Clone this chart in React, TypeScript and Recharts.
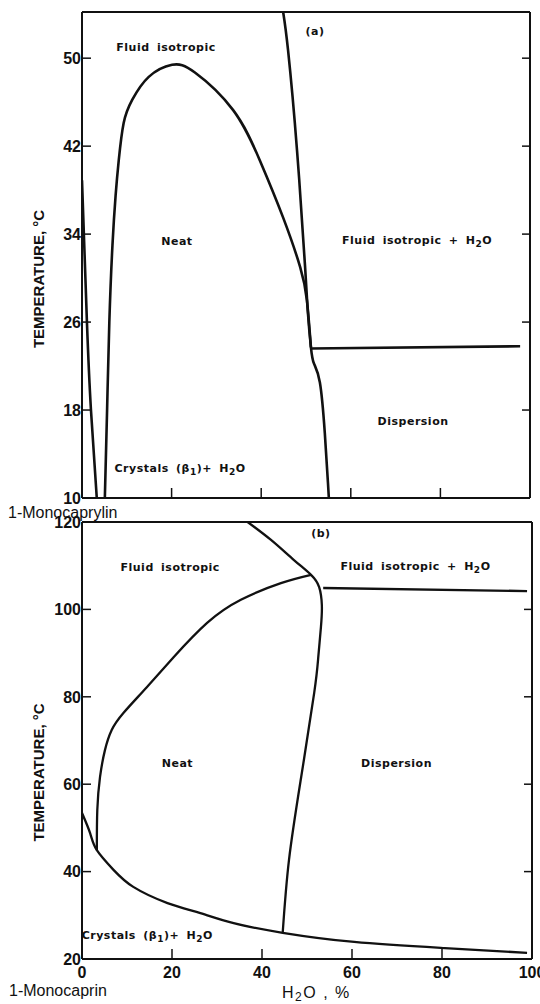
import { Label, Line, LineChart, ReferenceDot, XAxis, YAxis } from 'recharts'

type Pt = [number, number]
type Region = { x: number; t: number; text: string }

const pctTicks = [0, 20, 40, 60, 80, 100]
const pctInner = [20, 40, 60, 80]
const tempTicksA = [10, 18, 26, 34, 42, 50]
const tempInnerA = [18, 26, 34, 42, 50]
const tempTicksB = [20, 40, 60, 80, 100, 120]
const tempInnerB = [40, 60, 80, 100]

// (a) 1-monocaprylin, points are [H2O %, temperature °C]
const aCrystalLine: Pt[] = [[0, 38.9], [1.1, 26], [2, 18], [3.3, 10]]
const aNeatDome: Pt[] = [
  [5.1, 10], [5.6, 18], [6.1, 26], [6.8, 33], [7.5, 37.5], [8.2, 40.7],
  [9.3, 44.1], [11.2, 46.2], [14.9, 48.3], [20.1, 49.4], [25.2, 48.7],
  [33.7, 45.3], [39.7, 40.7], [44.9, 35.5], [48.7, 31], [50.2, 28], [51.1, 23.7],
]
const aWaterLine: Pt[] = [
  [44.9, 54.2], [46, 50.7], [48, 41.6], [49.8, 31], [50.4, 27], [51.1, 23.7],
  [51.8, 22.2], [53.1, 20.5], [54.2, 15.9], [54.9, 11.4], [55.1, 10],
]
const aDispersionTop: Pt[] = [[51.1, 23.6], [97.8, 23.8]]

// (b) 1-monocaprin
const bWaterLine: Pt[] = [
  [36.8, 120], [42, 115.9], [47.1, 111.3], [50.9, 107.9], [52.7, 105.1], [53.3, 101],
  [53.1, 96], [52.5, 89], [51.6, 80.9], [48.7, 61.6], [46, 42.7], [44.6, 26],
]
const bDispersionTop: Pt[] = [[53.6, 104.9], [98.9, 104.2]]
const bNeatDome: Pt[] = [
  [3.3, 44.9], [3.4, 54.1], [4, 61.6], [5.1, 67.8], [6.6, 72.4], [9.2, 76.3],
  [14.4, 82.2], [20.4, 89.1], [27.8, 96.9], [35.3, 102.2], [44.2, 106], [50.9, 107.9],
]
const bCrystalLine: Pt[] = [
  [0, 53.4], [1.8, 48.8], [3.3, 44.9], [7, 40.4], [11.4, 36.5], [19, 32.8],
  [26.3, 30.5], [33.7, 28.2], [44.6, 26], [60.5, 23.9], [80.6, 22.5], [98.9, 21.4],
]

const aRegions: Region[] = [
  { x: 18.75, t: 51, text: 'Fluid isotropic' },
  { x: 52, t: 52.5, text: '(a)' },
  { x: 21.2, t: 33.4, text: 'Neat' },
  { x: 74.8, t: 33.5, text: 'Fluid isotropic + H_2O' },
  { x: 73.9, t: 17, text: 'Dispersion' },
  { x: 21.9, t: 12.7, text: 'Crystals (β_1)+ H_2O' },
]
const bRegions: Region[] = [
  { x: 53.1, t: 117.5, text: '(b)' },
  { x: 19.6, t: 109.7, text: 'Fluid isotropic' },
  { x: 74.1, t: 109.9, text: 'Fluid isotropic + H_2O' },
  { x: 21.2, t: 64.9, text: 'Neat' },
  { x: 69.9, t: 64.9, text: 'Dispersion' },
  { x: 14.5, t: 25.5, text: 'Crystals (β_1)+ H_2O' },
]

const ink = '#111'
const sans = '"Liberation Sans", Arial, sans-serif'
const labelFont = '"DejaVu Sans", sans-serif'

const rows = (pts: Pt[]) => pts.map(([x, t]) => ({ x, t }))

function RegionText({ cx, cy, text }: { cx: number; cy: number; text: string }) {
  const parts = text.split(/(_\d)/).filter(Boolean)
  let shifted = false
  return (
    <text
      x={cx}
      y={cy}
      dy='0.36em'
      textAnchor='middle'
      fill={ink}
      fontFamily={labelFont}
      fontWeight={700}
      fontSize={11}
      letterSpacing={0.5}
      wordSpacing={3}
    >
      {parts.map((p, i) => {
        if (p.startsWith('_')) {
          shifted = true
          return (
            <tspan key={i} dy={3} fontSize={9}>
              {p.slice(1)}
            </tspan>
          )
        }
        const dy = shifted ? -3 : undefined
        shifted = false
        return (
          <tspan key={i} dy={dy}>
            {p}
          </tspan>
        )
      })}
    </text>
  )
}

function Panel({
  height,
  yDomain,
  yTicks,
  yInner,
  bottomHeight,
  rightWidth,
  titleShift,
  showPct,
  curves,
  regions,
  lineWidth,
}: {
  height: number
  yDomain: [number, number]
  yTicks: number[]
  yInner: number[]
  bottomHeight: number
  rightWidth: number
  titleShift: number
  showPct: boolean
  curves: Pt[][]
  regions: Region[]
  lineWidth: number
}) {
  const axisLine = { stroke: ink, strokeWidth: 2 }
  return (
    <LineChart width={540} height={height} margin={{ top: 0, right: 0, bottom: 0, left: 0 }}>
      <XAxis
        type='number'
        dataKey='x'
        domain={[0, 100]}
        ticks={showPct ? pctTicks : pctInner}
        height={bottomHeight}
        axisLine={axisLine}
        tickLine={false}
        tickSize={0}
        tickMargin={0}
        interval={0}
        allowDataOverflow
        tick={(p: any) => (
          <g>
            <line x1={p.x} y1={p.y} x2={p.x} y2={p.y - 10} stroke={ink} strokeWidth={1.5} />
            {showPct && (
              <text x={p.x} y={p.y + 19} textAnchor='middle' fill={ink} fontFamily={sans} fontSize={16} fontWeight={700}>
                {p.payload.value}
              </text>
            )}
          </g>
        )}
      />
      <XAxis
        xAxisId='top'
        orientation='top'
        type='number'
        dataKey='x'
        domain={[0, 100]}
        ticks={pctInner}
        height={12}
        axisLine={axisLine}
        tickLine={false}
        tickSize={0}
        tickMargin={0}
        interval={0}
        tick={(p: any) => <line x1={p.x} y1={p.y} x2={p.x} y2={p.y + 10} stroke={ink} strokeWidth={1.5} />}
      />
      <YAxis
        type='number'
        domain={yDomain}
        ticks={yTicks}
        width={82}
        axisLine={axisLine}
        tickLine={false}
        tickSize={0}
        tickMargin={0}
        interval={0}
        allowDataOverflow
        tick={(p: any) => (
          <g>
            <line x1={p.x} y1={p.y} x2={p.x + 9} y2={p.y} stroke={ink} strokeWidth={1.5} />
            <text x={p.x - 1} y={p.y} dy='0.36em' textAnchor='end' fill={ink} fontFamily={sans} fontSize={16} fontWeight={700}>
              {p.payload.value}
            </text>
          </g>
        )}
      >
        <Label
          content={(p: any) => {
            const vb = p.viewBox
            const cx = vb.x + 39
            const cy = vb.y + vb.height / 2 + titleShift
            return (
              <text
                x={cx}
                y={cy}
                dy='0.36em'
                textAnchor='middle'
                transform={`rotate(-90 ${cx} ${cy})`}
                fill={ink}
                fontFamily={sans}
                fontWeight={700}
                fontSize={15}
              >
                TEMPERATURE, °C
              </text>
            )
          }}
        />
      </YAxis>
      <YAxis
        yAxisId='right'
        orientation='right'
        type='number'
        domain={yDomain}
        ticks={yInner}
        width={rightWidth}
        axisLine={axisLine}
        tickLine={false}
        tickSize={0}
        tickMargin={0}
        interval={0}
        allowDataOverflow
        tick={(p: any) => <line x1={p.x} y1={p.y} x2={p.x - 8} y2={p.y} stroke={ink} strokeWidth={1.5} />}
      />
      {curves.map((pts, i) => (
        <Line
          key={i}
          data={rows(pts)}
          dataKey='t'
          type='natural'
          stroke={ink}
          strokeWidth={lineWidth}
          dot={false}
          activeDot={false}
          isAnimationActive={false}
        />
      ))}
      {regions.map((r) => (
        <ReferenceDot
          key={r.text}
          x={r.x}
          y={r.t}
          r={1}
          ifOverflow='visible'
          shape={(p: any) => <RegionText cx={p.cx} cy={p.cy} text={r.text} />}
        />
      ))}
    </LineChart>
  )
}

export default function App() {
  return (
    <div style={{ position: 'absolute', left: 0, top: 0, width: 540, height: 1004, background: '#fff' }}>
      <div style={{ position: 'absolute', left: 0, top: 0 }}>
        <Panel
          height={510}
          yDomain={[10, 54.2]}
          yTicks={tempTicksA}
          yInner={tempInnerA}
          bottomHeight={12}
          rightWidth={10}
          titleShift={24}
          showPct={false}
          curves={[aCrystalLine, aNeatDome, aWaterLine, aDispersionTop]}
          regions={aRegions}
          lineWidth={2.6}
        />
      </div>
      <div style={{ position: 'absolute', left: 0, top: 510 }}>
        <Panel
          height={494}
          yDomain={[20, 120]}
          yTicks={tempTicksB}
          yInner={tempInnerB}
          bottomHeight={45}
          rightWidth={8}
          titleShift={32}
          showPct
          curves={[bWaterLine, bDispersionTop, bNeatDome, bCrystalLine]}
          regions={bRegions}
          lineWidth={2.3}
        />
      </div>
      <svg width={540} height={1004} style={{ position: 'absolute', left: 0, top: 0, pointerEvents: 'none' }}>
        <text x={8} y={518} fill={ink} fontFamily={sans} fontSize={16}>
          1-Monocaprylin
        </text>
        <text x={9} y={996} fill={ink} fontFamily={sans} fontSize={16}>
          1-Monocaprin
        </text>
        <text x={282} y={998} fill={ink} fontFamily={sans} fontSize={16} letterSpacing={1.5}>
          H
          <tspan dy={3} fontSize={12}>
            2
          </tspan>
          <tspan dy={-3}>O , %</tspan>
        </text>
      </svg>
    </div>
  )
}
